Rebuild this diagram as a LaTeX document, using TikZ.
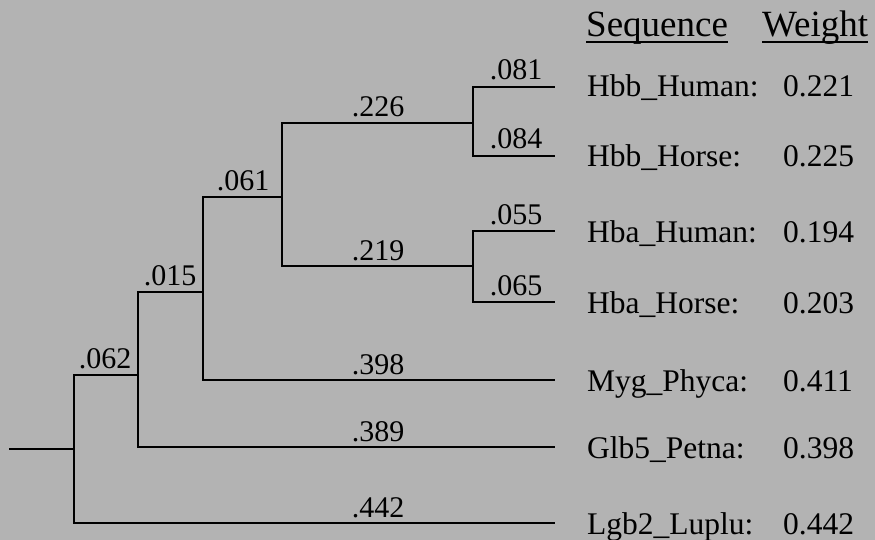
\documentclass[tikz,border=0pt]{standalone}
\usepackage{fontspec}
\setmainfont{Liberation Serif}
\definecolor{panelgray}{RGB}{179,179,179}
\begin{document}
\begin{tikzpicture}[x=1pt,y=-1pt,
  branch/.style={line width=1.8pt,line cap=rect},
  blen/.style={anchor=base,inner sep=0pt,font=\fontsize{30}{36}\selectfont},
  seqname/.style={anchor=base west,inner sep=0pt,font=\fontsize{31.5}{38}\selectfont},
  seqweight/.style={anchor=base west,inner sep=0pt,font=\fontsize{31.5}{38}\selectfont},
  colhead/.style={anchor=base west,inner sep=0pt,font=\fontsize{37}{44}\selectfont},
  headrule/.style={line width=2pt}]
% background panel
\fill[panelgray] (0,0) rectangle (875,540);
\useasboundingbox (0,0) rectangle (875,540);

% internal nodes of the tree
\coordinate (stub) at (10,449);
\coordinate (root) at (74,449);
\coordinate (n1) at (138,375);
\coordinate (n2) at (203,292);
\coordinate (n3) at (282,197);
\coordinate (n4) at (473,123);
\coordinate (n5) at (473,266);
% leaf tips
\coordinate (hbbhu) at (554,87);
\coordinate (hbbho) at (554,156);
\coordinate (hbahu) at (554,231);
\coordinate (hbaho) at (554,302);
\coordinate (myg) at (554,380);
\coordinate (glb) at (554,447);
\coordinate (lgb) at (554,523);

% branches
\draw[branch] (stub) -- (root);
\draw[branch] (root) |- (n1);
\draw[branch] (root) |- (lgb);
\draw[branch] (n1) |- (n2);
\draw[branch] (n1) |- (glb);
\draw[branch] (n2) |- (n3);
\draw[branch] (n2) |- (myg);
\draw[branch] (n3) |- (n4);
\draw[branch] (n3) |- (n5);
\draw[branch] (n4) |- (hbbhu);
\draw[branch] (n4) |- (hbbho);
\draw[branch] (n5) |- (hbahu);
\draw[branch] (n5) |- (hbaho);

% branch lengths
\node[blen] (l062) at (105,368) {.062};
\node[blen] (l015) at (170,285) {.015};
\node[blen] (l061) at (243,190) {.061};
\node[blen] (l226) at (378,117) {.226};
\node[blen] (l219) at (378,260) {.219};
\node[blen] (l081) at (516,80) {.081};
\node[blen] (l084) at (516,149) {.084};
\node[blen] (l055) at (516,224) {.055};
\node[blen] (l065) at (516,295) {.065};
\node[blen] (l398) at (378,374) {.398};
\node[blen] (l389) at (378,441) {.389};
\node[blen] (l442) at (378,517) {.442};

% column headings
\node[colhead] (hseq) at (586,37) {Sequence};
\node[colhead] (hwt) at (762,37) {Weight};
\draw[headrule] ([yshift=-5pt]hseq.base west) -- ([yshift=-5pt]hseq.base east);
\draw[headrule] ([yshift=-5pt]hwt.base west) -- ([yshift=-5pt]hwt.base east);

% sequence names and weights
\node[seqname] (s1) at (587,97) {Hbb\_Human:};
\node[seqname] (s2) at (587,167) {Hbb\_Horse:};
\node[seqname] (s3) at (587,242) {Hba\_Human:};
\node[seqname] (s4) at (587,313) {Hba\_Horse:};
\node[seqname] (s5) at (587,391) {Myg\_Phyca:};
\node[seqname] (s6) at (587,458) {Glb5\_Petna:};
\node[seqname] (s7) at (587,534) {Lgb2\_Luplu:};
\node[seqweight] (w1) at (783,97) {0.221};
\node[seqweight] (w2) at (783,167) {0.225};
\node[seqweight] (w3) at (783,242) {0.194};
\node[seqweight] (w4) at (783,313) {0.203};
\node[seqweight] (w5) at (783,391) {0.411};
\node[seqweight] (w6) at (783,458) {0.398};
\node[seqweight] (w7) at (783,534) {0.442};
\end{tikzpicture}
\end{document}
